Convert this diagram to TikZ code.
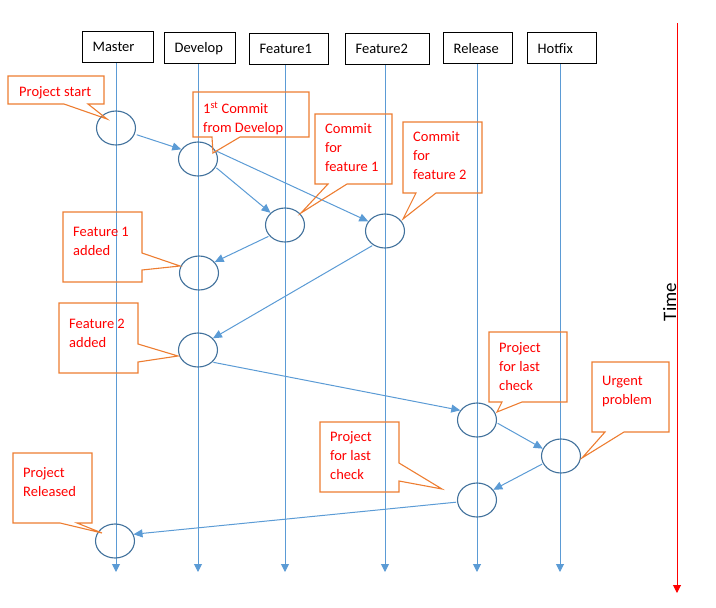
\documentclass[tikz,border=0pt]{standalone}
\usepackage{fontspec}
\setmainfont{Carlito}
\usetikzlibrary{arrows.meta,shapes.geometric}
\definecolor{lifeblue}{HTML}{5B9BD5}
\definecolor{ringblue}{HTML}{41719C}
\definecolor{calloutorange}{HTML}{ED7D31}
\definecolor{textred}{HTML}{FF0000}
\begin{document}
\begin{tikzpicture}[x=1pt,y=-1pt,
 header/.style={draw=black, line width=1.3pt, anchor=north west, minimum height=31pt, inner xsep=10pt, inner ysep=0pt, align=left, font=\fontsize{14.5}{19}\selectfont, text=black},
 lifeline/.style={draw=lifeblue, line width=1pt, -{Triangle[length=8pt,width=8pt]}},
 commit/.style={ellipse, draw=ringblue, line width=1.1pt, minimum width=39pt, minimum height=34pt, inner sep=0pt},
 conn/.style={draw=lifeblue, line width=1pt, shorten <=1pt, -{Triangle[length=9pt,width=8pt]}},
 callout/.style={draw=calloutorange, line width=1.1pt, line join=miter},
 note/.style={anchor=north west, inner sep=0pt, align=left, text=textred, font=\fontsize{14.5}{19}\selectfont, execute at begin node=\strut},
]
\useasboundingbox (0,0) rectangle (716,608);

% headers
\node[header, text width=51pt] (master) at (82,31) {Master};
\node[header, text width=51pt] (develop) at (164,32) {Develop};
\node[header, text width=59pt] (feat1) at (249,33) {Feature1};
\node[header, text width=64pt] (feat2) at (345,33) {Feature2};
\node[header, text width=49pt] (release) at (443,32) {Release};
\node[header, text width=49pt] (hotfix) at (527,32) {Hotfix};

% lifelines
\coordinate (mEnd) at (116,572);
\coordinate (dEnd) at (198,572);
\coordinate (f1End) at (285,572);
\coordinate (f2End) at (385,572);
\coordinate (rEnd) at (477,572);
\coordinate (hEnd) at (560,572);
\draw[lifeline] (master.south -| mEnd) -- (mEnd);
\draw[lifeline] (develop.south -| dEnd) -- (dEnd);
\draw[lifeline] (feat1.south -| f1End) -- (f1End);
\draw[lifeline] (feat2.south -| f2End) -- (f2End);
\draw[lifeline] (release.south -| rEnd) -- (rEnd);
\draw[lifeline] (hotfix.south -| hEnd) -- (hEnd);

% time axis
\coordinate (tTop) at (677,23);
\coordinate (tEnd) at (677,593);
\draw[draw=red, line width=1pt, -{Triangle[length=8pt,width=8pt]}] (tTop) -- (tEnd);
\node[rotate=90, anchor=base, inner sep=0pt, font=\fontsize{19}{23}\selectfont] (time) at (676,302) {Time};

% commits
\node[commit] (c1) at (116,128) {};
\node[commit] (c2) at (198,159) {};
\node[commit] (c3) at (285,225) {};
\node[commit] (c4) at (385,231) {};
\node[commit] (c5) at (199,273) {};
\node[commit] (c6) at (198,350) {};
\node[commit] (c7) at (477,420) {};
\node[commit] (c8) at (561,456) {};
\node[commit] (c9) at (477,500) {};
\node[commit] (c10) at (115,541) {};

% connectors
\draw[conn, shorten <=2pt] (c1.-18) -- (c2.150);
\draw[conn] (c2.-25) -- (c3.140);
\draw[conn] (c2.25) -- (c4.150);
\draw[conn] (c3.215) -- (c5.35);
\draw[conn] (c4.230) -- (c6.38);
\draw[conn] (c6.-40) -- (c7.150);
\draw[conn] (c7.-8) -- (c8.158);
\draw[conn] (c8.203) -- (c9.32);
\draw[conn] (c9.186) -- (c10.20);

% callouts
\draw[callout] (8,76) -- (104,76) -- (104,104) -- (88,104) -- (107,119) -- (64,104) -- (8,104) -- cycle;
\draw[callout] (193,92) -- (309,92) -- (309,137) -- (240,137) -- (213,153) -- (212,137) -- (193,137) -- cycle;
\draw[callout] (315,114) -- (392,114) -- (392,184) -- (347,184) -- (301,213) -- (328,184) -- (315,184) -- cycle;
\draw[callout] (403,122) -- (482,122) -- (482,193) -- (436,193) -- (403,219) -- (416,193) -- (403,193) -- cycle;
\draw[callout] (63,212) -- (142,212) -- (142,253) -- (180,266) -- (142,270) -- (142,282) -- (63,282) -- cycle;
\draw[callout] (59,303) -- (138,303) -- (138,344) -- (178,356) -- (138,362) -- (138,373) -- (59,373) -- cycle;
\draw[callout] (489,332) -- (567,332) -- (567,402) -- (522,402) -- (497,412) -- (502,402) -- (489,402) -- cycle;
\draw[callout] (592,362) -- (669,362) -- (669,432) -- (624,432) -- (582,458) -- (605,432) -- (592,432) -- cycle;
\draw[callout] (320,422) -- (399,422) -- (399,463) -- (442,489) -- (399,481) -- (399,492) -- (320,492) -- cycle;
\draw[callout] (13,453) -- (92,453) -- (92,523) -- (77,523) -- (102,533) -- (60,523) -- (13,523) -- cycle;

% callout texts
\node[note] (n1) at (19,83.4) {Project start};
\node[note] (n2) at (203,102) {1\textsuperscript{st} Commit\\from Develop};
\node[note] (n3) at (325,123.4) {Commit\\for\\feature 1};
\node[note] (n4) at (413,131.4) {Commit\\for\\feature 2};
\node[note] (n5) at (73,227.4) {Feature 1\\added};
\node[note] (n6) at (69,318.4) {Feature 2\\added};
\node[note] (n7) at (499,342.4) {Project\\for last\\check};
\node[note] (n8) at (602,376.4) {Urgent\\problem};
\node[note] (n9) at (330,431.4) {Project\\for last\\check};
\node[note] (n10) at (23,467.4) {Project\\Released};
\end{tikzpicture}
\end{document}
